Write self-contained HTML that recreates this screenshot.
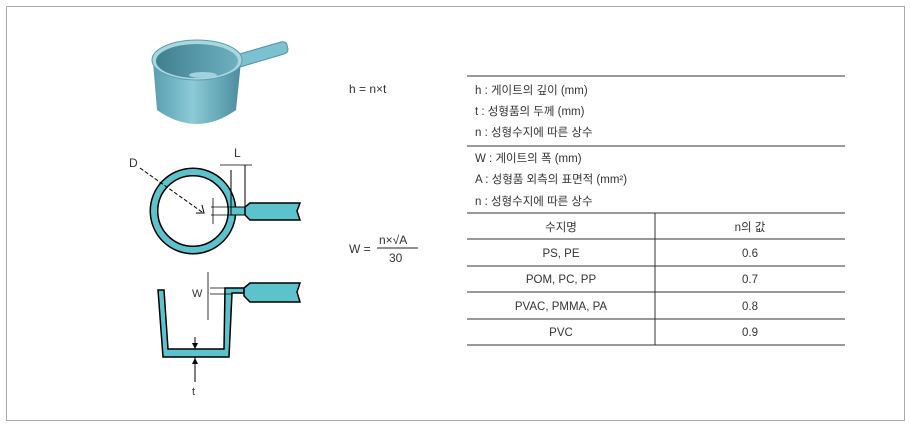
<!DOCTYPE html>
<html><head><meta charset="utf-8"><style>
body{margin:0;background:#fff;}
svg text{font-family:"Liberation Sans","Noto Sans CJK KR",sans-serif;fill:#333;}
</style></head><body>
<svg width="910" height="428" viewBox="0 0 910 428" xmlns="http://www.w3.org/2000/svg">
<rect x="6.5" y="6.5" width="898" height="414" fill="#fff" stroke="#aaa" stroke-width="1"/>
<defs>
<linearGradient id="g1" x1="0" x2="1"><stop offset="0" stop-color="#5a9fb0"/><stop offset="0.45" stop-color="#8ccad6"/><stop offset="1" stop-color="#4a8d9e"/></linearGradient>
<linearGradient id="g2" x1="0" x2="1"><stop offset="0" stop-color="#3f7f90"/><stop offset="1" stop-color="#6fb0c0"/></linearGradient>
</defs>
<!-- pot -->
<path d="M236 55 L281 42 Q286 41 287 45 L288 49 Q288 53 284 54 L240 67 Z" fill="#7cc1cf" stroke="#4f95a5" stroke-width="1"/>
<path d="M153 62 L157 110 Q197 138 236 110 L241 62 Z" fill="url(#g1)"/>
<ellipse cx="197" cy="60" rx="45" ry="20" fill="#a9d6df" stroke="#5a9fb0"/>
<ellipse cx="197" cy="61" rx="41" ry="17" fill="url(#g2)"/>
<ellipse cx="203" cy="75" rx="14" ry="3" fill="#9fd3dd"/>
<!-- circle view -->
<circle cx="193" cy="211" r="39" fill="none" stroke="#000" stroke-width="9"/>
<circle cx="193" cy="211" r="39" fill="none" stroke="#5cc3cc" stroke-width="6"/>
<rect x="231" y="207" width="14" height="8" fill="#5cc3cc" stroke="#000" stroke-width="1"/>
<path d="M245 207 L250 203 L300 203 L297 211 L300 220 L250 220 L245 215 Z" fill="#5cc3cc" stroke="#000" stroke-width="1.5"/>
<line x1="231" y1="170" x2="231" y2="207" stroke="#000"/><line x1="245" y1="165" x2="245" y2="207" stroke="#000"/>
<line x1="220" y1="165" x2="252" y2="165" stroke="#000" stroke-width="0.8"/>
<text x="234" y="157" font-size="12">L</text>
<line x1="211" y1="207" x2="231" y2="207" stroke="#000" stroke-width="0.8"/><line x1="211" y1="215" x2="231" y2="215" stroke="#000" stroke-width="0.8"/>
<line x1="213" y1="198" x2="213" y2="224" stroke="#000" stroke-width="0.8"/>
<line x1="140" y1="168" x2="202" y2="212" stroke="#000" stroke-dasharray="4,2"/>
<path d="M202 205 L204 213 L196 213" fill="none" stroke="#000"/>
<text x="129" y="167" font-size="12">D</text>
<!-- cup section -->
<path d="M158 290 L163 357 L229 357 L232 293 L244 293 L244 288 L225 288 L224 349 L168 349 L164 290 Z" fill="#5cc3cc" stroke="#000" stroke-width="1.5"/>
<path d="M244 288 L250 283 L300 283 L297 292 L300 302 L250 302 L244 296 Z" fill="#5cc3cc" stroke="#000" stroke-width="1.5"/>
<line x1="210" y1="288" x2="232" y2="288" stroke="#000" stroke-width="0.8"/><line x1="210" y1="294" x2="232" y2="294" stroke="#000" stroke-width="0.8"/>
<line x1="208" y1="272" x2="208" y2="320" stroke="#000" stroke-width="0.8"/>
<text x="192" y="297" font-size="11">W</text>
<line x1="195" y1="337" x2="195" y2="349" stroke="#000"/><path d="M192 343 L195 349 L198 343 Z"/>
<line x1="195" y1="357" x2="195" y2="382" stroke="#000"/><path d="M192 364 L195 358 L198 364 Z"/>
<text x="192" y="395" font-size="11">t</text>
<!-- formulas -->
<text x="349" y="93" font-size="12">h = n×t</text>
<text x="349" y="253" font-size="12">W =</text>
<text x="379" y="244" font-size="12">n×√A</text>
<line x1="377" y1="248" x2="418" y2="248" stroke="#222"/>
<text x="389" y="262" font-size="12">30</text>
<!-- table -->
<g stroke="#333" stroke-width="1">
<line x1="467" y1="76" x2="845" y2="76"/>
<line x1="467" y1="146" x2="845" y2="146"/>
<line x1="467" y1="213" x2="845" y2="213"/>
<line x1="467" y1="239" x2="845" y2="239"/>
<line x1="467" y1="266" x2="845" y2="266"/>
<line x1="467" y1="292" x2="845" y2="292"/>
<line x1="467" y1="319" x2="845" y2="319"/>
<line x1="467" y1="345" x2="845" y2="345"/>
<line x1="655" y1="213" x2="655" y2="345"/>
</g>
<g font-size="11.5">
<text x="475" y="94">h : 게이트의 깊이 (mm)</text>
<text x="475" y="115">t : 성형품의 두께 (mm)</text>
<text x="475" y="136">n : 성형수지에 따른 상수</text>
<text x="475" y="162">W : 게이트의 폭 (mm)</text>
<text x="475" y="183">A : 성형품 외측의 표면적 (mm²)</text>
<text x="475" y="205">n : 성형수지에 따른 상수</text>
</g>
<g font-size="11.5" text-anchor="middle">
<text x="561" y="231">수지명</text><text x="750" y="231">n의 값</text>
<text x="561" y="257">PS, PE</text><text x="750" y="257">0.6</text>
<text x="561" y="283">POM, PC, PP</text><text x="750" y="283">0.7</text>
<text x="561" y="310">PVAC, PMMA, PA</text><text x="750" y="310">0.8</text>
<text x="561" y="336">PVC</text><text x="750" y="336">0.9</text>
</g>
</svg>
</body></html>
